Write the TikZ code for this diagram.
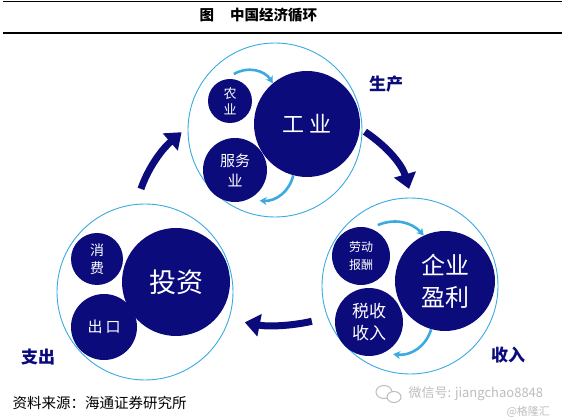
\documentclass[tikz,border=0pt]{standalone}
\usepackage{fontspec}
\setmainfont{Noto Sans CJK SC}
\usetikzlibrary{arrows.meta}
\definecolor{deepNavy}{HTML}{0B0B7C}
\definecolor{ringBlue}{HTML}{3AAAE0}
\definecolor{markGray}{HTML}{BDBDBD}

\begin{document}
\begin{tikzpicture}[x = 1pt, y = 1pt]
	\tikzstyle{ringStyle} = [shape = circle, inner sep = 0pt, draw = ringBlue, line width = 0.9pt]
	\tikzstyle{discStyle} = [shape = circle, inner sep = 0pt, fill = deepNavy, text = white, align = center]
	\tikzstyle{cycleArrow} = [draw = deepNavy, line width = 7pt, -{Triangle[length = 15pt, width = 22pt]}]
	\tikzstyle{turnArrow} = [draw = ringBlue, line width = 2.6pt, -{Stealth[length = 7pt, width = 8pt]}]
	\tikzstyle{stageStyle} = [text = deepNavy, font = \fontsize{17}{17}\selectfont\bfseries]
	\tikzstyle{markStyle} = [text = markGray, anchor = west]
	\useasboundingbox (0, 0) rectangle (566, 420);
	\draw[line width = 1pt] (3, 418) -- (562, 418);
	\draw[line width = 1.3pt] (3, 387) -- (562, 387);
	\node[anchor = west, font = \fontsize{14.5}{14.5}\selectfont\bfseries] (title) at (196, 405) {图\hspace{16pt}中国经济循环};
	\node[ringStyle, minimum size = 174pt] (upRing) at (275, 290) {};
	\node[ringStyle, minimum size = 176pt] (rightRing) at (410, 134) {};
	\node[ringStyle, minimum size = 176pt] (leftRing) at (145, 128) {};
	\node[discStyle, minimum size = 106pt, font = \fontsize{22}{22}\selectfont] (gong) at (307, 296) {工\hspace{5pt}业};
	\node[discStyle, minimum size = 44pt, font = \fontsize{13}{16}\selectfont] (nong) at (230, 319) {农\\业};
	\node[discStyle, minimum size = 64pt, font = \fontsize{15}{20}\selectfont] (fuwu) at (235, 250) {服务\\业};
	\node[discStyle, minimum size = 100pt, font = \fontsize{24}{32}\selectfont] (qiye) at (445, 139) {企业\\盈利};
	\node[discStyle, minimum size = 58pt, font = \fontsize{12}{18}\selectfont] (laodong) at (361, 164) {劳动\\报酬};
	\node[discStyle, minimum size = 68pt, font = \fontsize{17}{22}\selectfont] (shui) at (369, 98) {税收\\收入};
	\node[discStyle, minimum size = 108pt, font = \fontsize{27}{27}\selectfont] (touzi) at (176, 138) {投资};
	\node[discStyle, minimum size = 52pt, font = \fontsize{14}{18}\selectfont] (xiaofei) at (97, 161) {消\\费};
	\node[discStyle, minimum size = 66pt, font = \fontsize{15}{15}\selectfont] (chukou) at (104, 93) {出\hspace{3pt}口};
	\draw[turnArrow] ([yshift = 5pt]nong.80) to[bend left = 45] (gong.130);
	\draw[turnArrow] (gong.255) to[bend left = 40] ([yshift = -10pt]fuwu.-40);
	\draw[turnArrow] ([yshift = 7pt]laodong.55) to[bend left = 35] (qiye.115);
	\draw[turnArrow] (qiye.254) to[bend left = 40] ([yshift = -8pt]shui.-45);
	\draw[cycleArrow, shorten < = 3pt, shorten > = 9pt] (upRing.0) to[bend left = 20] (rightRing.89);
	\draw[cycleArrow, shorten < = 16pt, shorten > = 16pt] (rightRing.201) to[bend left = 12] (leftRing.-18);
	\draw[cycleArrow, shorten < = 16pt, shorten > = 8pt] (leftRing.96) to[bend left = 15] (upRing.178);
	\node[stageStyle] (shengchan) at (386, 336) {生产};
	\node[stageStyle] (shouru) at (508, 65) {收入};
	\node[stageStyle] (zhichu) at (38, 63) {支出};
	\node[anchor = west, font = \fontsize{14.5}{14.5}\selectfont] (source) at (9, 17) {资料来源：海通证券研究所};
	\draw[markGray, line width = 1pt] (384, 28) ellipse (8pt and 6.5pt);
	\draw[markGray, fill = white, line width = 1pt] (394, 23) ellipse (7pt and 5.5pt);
	\node[markStyle, font = \fontsize{13}{13}\selectfont] (wechat) at (405, 26) {微信号: jiangchao8848};
	\node[markStyle, font = \fontsize{11}{11}\selectfont] (glh) at (503, 8) {@格隆汇};
\end{tikzpicture}
\end{document}
